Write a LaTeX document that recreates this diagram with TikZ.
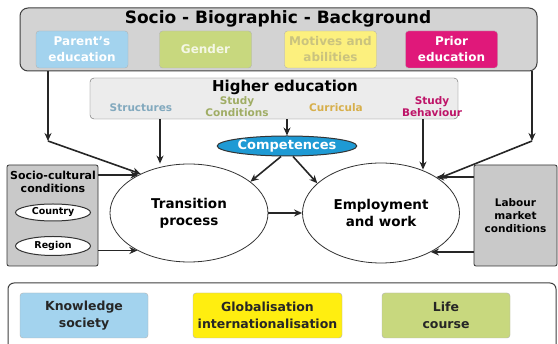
\documentclass[tikz,border=0pt]{standalone}
\usepackage{fontspec}
\setmainfont{DejaVu Sans}
\usetikzlibrary{shapes.geometric,arrows.meta}

% Colori
\definecolor{grigio}{HTML}{D3D3D3}
\definecolor{grigiochiaro}{HTML}{ECECEC}
\definecolor{grigioscuro}{HTML}{C9C9C9}
\definecolor{azzurro}{HTML}{A3D3EE}
\definecolor{verde}{HTML}{C8D87E}
\definecolor{giallo}{HTML}{FCF07E}
\definecolor{gialloforte}{HTML}{FFEE10}
\definecolor{magenta}{HTML}{E0187A}
\definecolor{blu}{HTML}{1E9AD4}

\begin{document}
\begin{tikzpicture}[x=1pt,y=-1pt,
    every node/.style={font=\bfseries, align=center, inner sep=0pt},
    box/.style={draw=gray!60, rounded corners=3pt, minimum width=92pt,
      minimum height=37pt, font=\bfseries\fontsize{12}{16}\selectfont, text=white},
    boxbasso/.style={draw=gray!60, rounded corners=3pt, minimum width=128pt,
      minimum height=45pt, font=\bfseries\fontsize{12.5}{17}\selectfont, text=black!85},
    etichetta/.style={font=\bfseries\fontsize{10.5}{12}\selectfont},
    ovale/.style={ellipse, draw=black!80, fill=white, line width=0.8pt},
    freccia/.style={-{Stealth[length=8pt,width=7pt]}, line width=1.6pt, draw=black!85}]

  % Cornice
  \clip (0,0) rectangle (558,344);
  \fill[white] (0,0) rectangle (558,344);

  % Sfondo socio-biografico
  \node[draw=black!75, line width=1pt, fill=grigio, rounded corners=8pt,
    minimum width=517pt, minimum height=63pt] (sfondo) at (278.5,39.5) {};
  \node[font=\bfseries\fontsize{17}{20}\selectfont] (titolo) at (278,19)
    {Socio - Biographic - Background};
  \node[box, fill=azzurro] (genitori) at (82,49.5) {Parent's\\education};
  \node[box, fill=verde, text=white!80!verde] (genere) at (205.5,49.5) {Gender};
  \node[box, fill=giallo, text=giallo!75!black!80] (motivi) at (330.5,49.5) {Motives and\\abilities};
  \node[box, fill=magenta] (precedente) at (451.5,49.5) {Prior\\education};

  % Istruzione superiore
  \node[draw=black!60, fill=grigiochiaro, rounded corners=4pt,
    minimum width=368pt, minimum height=41pt] (istruzione) at (274,98.5) {};
  \node[font=\bfseries\fontsize{15}{18}\selectfont] (istrtitolo) at (285,87) {Higher education};
  \node[etichetta, text=azzurro!80!black] (strutture) at (141,108) {Structures};
  \node[etichetta, text=verde!80!black] (condizioni) at (237,107) {Study\\Conditions};
  \node[etichetta, text=giallo!70!orange!85!black] (curricula) at (336,108) {Curricula};
  \node[etichetta, text=magenta!85!black] (comportamento) at (432,107) {Study\\Behaviour};

  % Competenze e processi
  \node[ellipse, draw=black!80, line width=1pt, fill=blu, text=white,
    minimum width=132pt, minimum height=20pt,
    font=\bfseries\fontsize{13}{15}\selectfont] (competenze) at (287,146) {Competences};
  \node[ovale, minimum width=158pt, minimum height=98pt,
    font=\bfseries\fontsize{13.5}{17}\selectfont] (transizione) at (189,213) {Transition\\process};
  \node[ovale, minimum width=157pt, minimum height=100pt,
    font=\bfseries\fontsize{13.5}{17}\selectfont] (lavoro) at (381,213) {Employment\\and work};

  % Condizioni socio-culturali
  \node[draw=black!80, line width=0.8pt, fill=grigioscuro, rounded corners=2pt,
    minimum width=91pt, minimum height=101pt] (socio) at (52.5,215.5) {};
  \node[font=\bfseries\fontsize{11}{13}\selectfont] (sociotitolo) at (53,182)
    {Socio-cultural\\conditions};
  \node[ovale, line width=1pt, minimum width=75pt, minimum height=17pt,
    font=\bfseries\fontsize{9.5}{11}\selectfont] (paese) at (53,212.5) {Country};
  \node[ovale, line width=1pt, minimum width=75pt, minimum height=19pt,
    font=\bfseries\fontsize{9.5}{11}\selectfont] (regione) at (53,246) {Region};

  % Mercato del lavoro
  \node[draw=black!80, line width=0.8pt, fill=grigioscuro, rounded corners=2pt,
    minimum width=83pt, minimum height=101pt,
    font=\bfseries\fontsize{10.5}{13}\selectfont] (mercato) at (515.5,215.5)
    {Labour\\market\\conditions};

  % Contesto in basso
  \node[draw=black!75, line width=1pt, fill=white, rounded corners=6pt,
    minimum width=548pt, minimum height=90pt] (contesto) at (282,328) {};
  \node[boxbasso, fill=azzurro] (conoscenza) at (84,315.5) {Knowledge\\society};
  \node[boxbasso, fill=gialloforte, minimum width=149pt] (globale) at (267.5,315.5)
    {Globalisation\\internationalisation};
  \node[boxbasso, fill=verde] (vita) at (446,315.5) {Life\\course};

  % Punti di raccordo
  \coordinate (gomitosx) at (48,141);
  \coordinate (gomitodx) at (532,141);
  \coordinate (xstrutt) at (160,0);
  \coordinate (xcomp) at (423,0);

  % Frecce
  \draw[freccia] (sfondo.south -| gomitosx) -- (gomitosx);
  \draw[freccia] (gomitosx) -- (transizione.141);
  \draw[freccia] (sfondo.south -| gomitodx) -- (gomitodx);
  \draw[freccia] (gomitodx) -- (lavoro.31);
  \draw[freccia] (istruzione.south -| xstrutt) -- (transizione.north -| xstrutt);
  \draw[freccia] (istruzione.south -| competenze) -- (competenze.north);
  \draw[freccia] (istruzione.south -| xcomp) -- ([yshift=-7pt]lavoro.north -| xcomp);
  \draw[freccia] ([xshift=-6pt]competenze.south) -- (transizione.27);
  \draw[freccia] ([xshift=6pt]competenze.south) -- (lavoro.155);
  \draw[freccia] (transizione.east) -- (lavoro.west);
  \draw[freccia] (transizione.143 -| socio.east) -- (transizione.143);
  \draw[freccia] (transizione.216 -| socio.east) -- (transizione.216);
  \draw[freccia] (lavoro.33 -| mercato.west) -- (lavoro.33);
  \draw[freccia] (lavoro.322 -| mercato.west) -- (lavoro.322);
\end{tikzpicture}
\end{document}
